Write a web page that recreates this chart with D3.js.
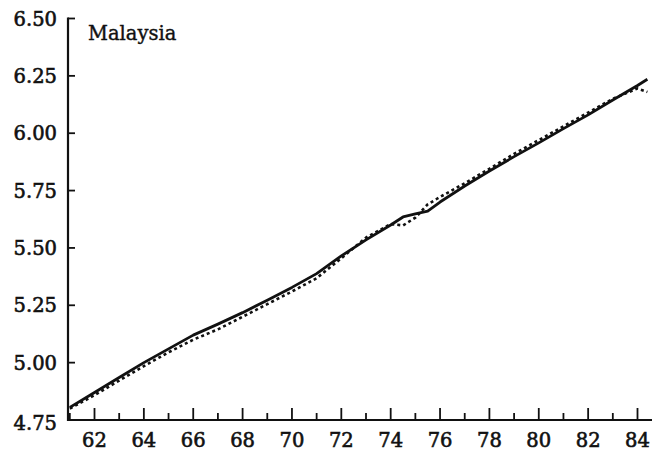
<!DOCTYPE html>
<html>
<head>
<meta charset="utf-8">
<script src="https://cdn.jsdelivr.net/npm/d3@7"></script>
<style>
  html, body { margin: 0; padding: 0; background: #fff; }
  svg { display: block; }
  text { font-family: "DejaVu Serif", "Liberation Serif", serif; fill: #111; }
</style>
</head>
<body>
<svg id="chart" width="656" height="456"></svg>
<script>
// Log level, Malaysia, 1961-1984: actual (solid) and fitted (dotted)
const years = [61, 62, 63, 64, 65, 66, 67, 68, 69, 70, 71, 72, 73, 74, 74.5, 75, 75.5, 76, 77, 78, 79, 80, 81, 82, 83, 84, 84.4];
const actual = [4.805, 4.87, 4.935, 5.0, 5.06, 5.12, 5.168, 5.218, 5.272, 5.328, 5.388, 5.465, 5.535, 5.600, 5.635, 5.648, 5.66, 5.70, 5.77, 5.835, 5.898, 5.958, 6.02, 6.08, 6.145, 6.208, 6.235];
const fitted = [4.80, 4.858, 4.922, 4.985, 5.045, 5.10, 5.145, 5.20, 5.255, 5.31, 5.368, 5.455, 5.545, 5.604, 5.598, 5.632, 5.69, 5.722, 5.782, 5.845, 5.91, 5.97, 6.03, 6.09, 6.15, 6.195, 6.18];
const yTicks = [4.75, 5.00, 5.25, 5.50, 5.75, 6.00, 6.25, 6.50];
const xMajor = [62, 64, 66, 68, 70, 72, 74, 76, 78, 80, 82, 84];
const xMinor = [61, 63, 65, 67, 69, 71, 73, 75, 77, 79, 81, 83];
const title = "Malaysia";

const svg = d3.select("#chart");
const x = d3.scaleLinear().domain([62, 84]).range([94.5, 637.5]);
const y = d3.scaleLinear().domain([4.75, 6.5]).range([420, 18.5]);
const x0 = 68, xEnd = 652;

const ink = "#111";

// x axis: major ticks with labels, minor ticks at odd years, all pointing inward
const gx = svg.append("g").attr("transform", "translate(0,420)");
gx.append("line").attr("x1", x0 - 1).attr("x2", xEnd).attr("y1", 0).attr("y2", 0)
  .attr("stroke", ink).attr("stroke-width", 2.2);
gx.selectAll("line.major").data(xMajor).join("line").attr("class", "major")
  .attr("x1", d => x(d)).attr("x2", d => x(d)).attr("y1", 0).attr("y2", -12)
  .attr("stroke", ink).attr("stroke-width", 1.8);
gx.selectAll("line.minor").data(xMinor).join("line").attr("class", "minor")
  .attr("x1", d => x(d)).attr("x2", d => x(d)).attr("y1", 0).attr("y2", -7)
  .attr("stroke", ink).attr("stroke-width", 1.8);
gx.selectAll("text").data(xMajor).join("text")
  .attr("x", d => x(d)).attr("y", 27)
  .attr("text-anchor", "middle")
  .attr("font-size", 19.5)
  .attr("stroke", ink).attr("stroke-width", 0.6)
  .text(d => d);

// y axis with inward ticks
const gy = svg.append("g").attr("transform", `translate(${x0},0)`);
gy.append("line").attr("x1", 0).attr("x2", 0).attr("y1", y(6.5) - 1).attr("y2", 421)
  .attr("stroke", ink).attr("stroke-width", 2.2);
gy.selectAll("line.tick").data(yTicks.filter(d => d > 4.75)).join("line").attr("class", "tick")
  .attr("x1", 0).attr("x2", 7).attr("y1", d => y(d)).attr("y2", d => y(d))
  .attr("stroke", ink).attr("stroke-width", 1.8);
gy.selectAll("text").data(yTicks).join("text")
  .attr("x", -11).attr("y", d => y(d) + (d === 4.75 ? 3 : 0))
  .attr("dy", "0.36em")
  .attr("text-anchor", "end")
  .attr("font-size", 19.5)
  .attr("stroke", ink).attr("stroke-width", 0.6)
  .text(d => d.toFixed(2));

// series
const pts = (vals) => years.map((yr, i) => [yr, vals[i]]);
const line = d3.line().x(d => x(d[0])).y(d => y(d[1]));

svg.append("path").datum(pts(fitted))
  .attr("d", line).attr("fill", "none")
  .attr("stroke", ink).attr("stroke-width", 2.6)
  .attr("stroke-dasharray", "3,3");

svg.append("path").datum(pts(actual))
  .attr("d", line).attr("fill", "none")
  .attr("stroke", ink).attr("stroke-width", 2.8)
  .attr("stroke-linejoin", "round");

// panel title
svg.append("text").attr("x", 88).attr("y", 40)
  .attr("font-size", 19.5)
  .attr("stroke", ink).attr("stroke-width", 0.4)
  .text(title);
</script>
</body>
</html>
